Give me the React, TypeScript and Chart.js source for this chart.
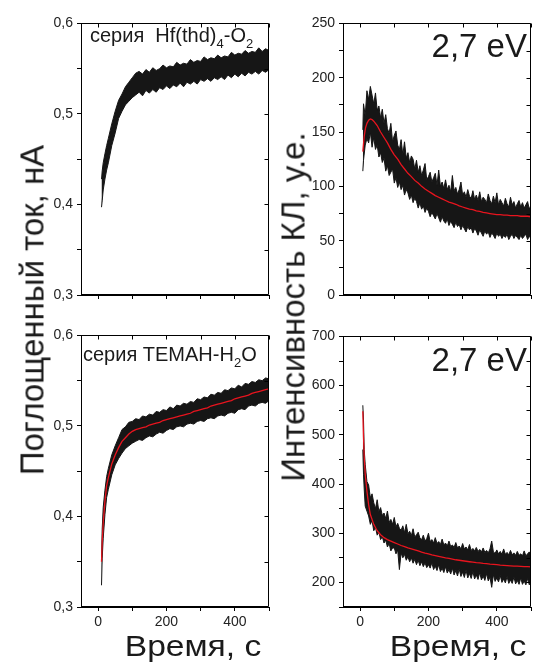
import React, { useEffect, useRef } from "react";
import { Chart, registerables } from "chart.js";
Chart.register(...registerables);

const FONT = '"Liberation Sans", Arial, Helvetica, sans-serif';

// ---------- time grids (s) ----------
const tLeft = [10, 12, 15, 20, 25, 30, 40, 50, 60, 70, 80, 90, 100, 110, 120, 130, 140, 150, 160, 170, 180, 190, 200, 210, 220, 230, 240, 250, 260, 270, 280, 290, 300, 310, 320, 330, 340, 350, 360, 370, 380, 390, 400, 410, 420, 430, 440, 450, 460, 470, 480, 490, 500];

const tTR = [8, 10, 15, 20, 25, 30, 35, 40, 45, 50, 55, 60, 65, 70, 75, 80, 85, 90, 95, 100, 105, 110, 115, 120, 125, 130, 135, 140, 145, 150, 155, 160, 165, 170, 175, 180, 185, 190, 195, 200, 205, 210, 215, 220, 225, 230, 235, 240, 245, 250, 255, 260, 265, 270, 275, 280, 285, 290, 295, 300, 305, 310, 315, 320, 325, 330, 335, 340, 345, 350, 355, 360, 365, 370, 375, 380, 385, 390, 395, 400, 405, 410, 415, 420, 425, 430, 435, 440, 445, 450, 455, 460, 465, 470, 475, 480, 485, 490, 495, 500];

const tBR = [8, 10, 12, 15, 20, 25, 30, 35, 40, 45, 50, 55, 60, 65, 70, 75, 80, 85, 90, 95, 100, 105, 110, 115, 120, 125, 130, 135, 140, 145, 150, 155, 160, 165, 170, 175, 180, 185, 190, 195, 200, 205, 210, 215, 220, 225, 230, 235, 240, 245, 250, 255, 260, 265, 270, 275, 280, 285, 290, 295, 300, 305, 310, 315, 320, 325, 330, 335, 340, 345, 350, 355, 360, 365, 370, 375, 380, 385, 390, 395, 400, 405, 410, 415, 420, 425, 430, 435, 440, 445, 450, 455, 460, 465, 470, 475, 480, 485, 490, 495, 500];

const tFitTR = [8, 12, 16, 20, 25, 30, 35, 40, 50, 60, 70, 80, 90, 100, 110, 120, 130, 140, 150, 160, 170, 180, 190, 200, 210, 220, 230, 240, 250, 260, 270, 280, 290, 300, 310, 320, 330, 340, 350, 360, 370, 380, 390, 400, 410, 420, 430, 440, 450, 460, 470, 480, 490, 500];

const tFitBR = [8, 10, 12, 15, 20, 25, 30, 40, 50, 60, 70, 80, 90, 100, 110, 120, 130, 140, 150, 160, 170, 180, 190, 200, 210, 220, 230, 240, 250, 260, 270, 280, 290, 300, 310, 320, 330, 340, 350, 360, 370, 380, 390, 400, 410, 420, 430, 440, 450, 460, 470, 480, 490, 500];

// ---------- top-left: Hf(thd)4-O2, absorbed current (nA) ----------
const hfUpper = [0.428, 0.437, 0.446, 0.456, 0.465, 0.473, 0.489, 0.503, 0.515, 0.522, 0.530, 0.535, 0.540, 0.545, 0.547, 0.544, 0.549, 0.546, 0.551, 0.548, 0.550, 0.554, 0.551, 0.553, 0.552, 0.557, 0.554, 0.556, 0.555, 0.560, 0.557, 0.559, 0.558, 0.563, 0.560, 0.562, 0.561, 0.565, 0.562, 0.564, 0.563, 0.568, 0.565, 0.567, 0.566, 0.570, 0.567, 0.569, 0.568, 0.573, 0.569, 0.572, 0.570];
const hfLower = [0.397, 0.404, 0.416, 0.428, 0.438, 0.446, 0.465, 0.479, 0.495, 0.503, 0.510, 0.514, 0.518, 0.521, 0.524, 0.520, 0.526, 0.523, 0.527, 0.524, 0.529, 0.527, 0.531, 0.528, 0.532, 0.530, 0.534, 0.530, 0.535, 0.533, 0.536, 0.533, 0.538, 0.536, 0.539, 0.536, 0.540, 0.538, 0.541, 0.538, 0.543, 0.540, 0.544, 0.541, 0.545, 0.542, 0.546, 0.544, 0.547, 0.544, 0.548, 0.546, 0.549];

// ---------- bottom-left: TEMAH-H2O ----------
const temUpper = [0.352, 0.386, 0.410, 0.429, 0.444, 0.453, 0.468, 0.478, 0.487, 0.496, 0.499, 0.504, 0.505, 0.508, 0.507, 0.511, 0.510, 0.513, 0.512, 0.516, 0.515, 0.518, 0.517, 0.521, 0.519, 0.523, 0.522, 0.525, 0.524, 0.527, 0.526, 0.530, 0.529, 0.532, 0.531, 0.535, 0.534, 0.537, 0.536, 0.540, 0.539, 0.542, 0.541, 0.545, 0.543, 0.547, 0.546, 0.549, 0.548, 0.551, 0.550, 0.553, 0.552];
const temLower = [0.324, 0.354, 0.376, 0.402, 0.421, 0.430, 0.446, 0.457, 0.464, 0.470, 0.475, 0.478, 0.481, 0.483, 0.485, 0.484, 0.487, 0.489, 0.488, 0.491, 0.493, 0.492, 0.495, 0.497, 0.496, 0.499, 0.500, 0.499, 0.502, 0.503, 0.502, 0.505, 0.506, 0.505, 0.508, 0.509, 0.508, 0.511, 0.512, 0.511, 0.514, 0.515, 0.514, 0.518, 0.519, 0.518, 0.522, 0.523, 0.522, 0.525, 0.526, 0.525, 0.528];
const temFit = [0.350, 0.372, 0.393, 0.417, 0.434, 0.443, 0.458, 0.468, 0.476, 0.483, 0.487, 0.491, 0.494, 0.496, 0.497, 0.498, 0.499, 0.501, 0.502, 0.503, 0.504, 0.506, 0.507, 0.508, 0.509, 0.510, 0.511, 0.512, 0.513, 0.514, 0.516, 0.517, 0.518, 0.519, 0.520, 0.522, 0.523, 0.524, 0.525, 0.526, 0.527, 0.528, 0.530, 0.531, 0.532, 0.533, 0.534, 0.536, 0.537, 0.538, 0.539, 0.540, 0.541];

// ---------- top-right: CL intensity 2.7 eV (Hf(thd)4-O2) ----------
const clTopUpper = [
  152, 176, 165, 188, 180, 192, 184, 176, 186, 170,
  174, 163, 171, 158, 166, 153, 149, 158, 141, 147,
  151, 138, 134, 143, 129, 141, 126, 131, 122, 128,
  125, 116, 124, 113, 119, 110, 115, 121, 106, 109,
  113, 104, 108, 112, 101, 115, 100, 104, 98, 106,
  97, 101, 95, 110, 96, 99, 93, 97, 104, 92,
  95, 90, 97, 91, 89, 96, 88, 92, 87, 95,
  86, 90, 88, 85, 93, 87, 84, 91, 85, 94,
  83, 88, 85, 82, 89, 84, 81, 90, 83, 86,
  80, 84, 87, 81, 85, 80, 83, 86, 79, 83,
];
const clTopLower = [
  114, 124, 138, 144, 140, 150, 136, 145, 134, 138,
  127, 131, 122, 126, 114, 119, 110, 113, 116, 103,
  108, 99, 104, 97, 101, 92, 97, 94, 88, 92,
  85, 89, 86, 80, 85, 79, 82, 76, 80, 77,
  72, 76, 73, 70, 75, 71, 67, 72, 68, 66,
  70, 64, 68, 65, 62, 67, 63, 65, 60, 64,
  61, 58, 63, 60, 62, 57, 61, 59, 55, 60,
  57, 54, 59, 56, 58, 53, 57, 55, 52, 57,
  54, 56, 52, 55, 53, 56, 51, 54, 56, 52,
  55, 53, 51, 55, 52, 54, 56, 51, 54, 52,
];
const clTopFit = [132, 146, 154, 158, 161, 162, 161.5, 160, 156, 150, 145, 140, 134, 129, 125, 120, 116, 112, 109, 105.5, 103, 100, 97.5, 95.5, 93.5, 91.5, 90, 88.5, 87, 85.5, 84.5, 83.5, 82, 81, 80, 79, 78.5, 77.5, 77, 76, 75.5, 75, 74.5, 74, 74, 73.5, 73.5, 73, 73, 73, 72.5, 72.5, 72.5, 72];

// ---------- bottom-right: CL intensity 2.7 eV (TEMAH-H2O) ----------
const clBotUpper = [
  560, 530, 470, 440, 405, 398, 372, 380, 362, 350,
  368, 344, 352, 336, 341, 330, 345, 322, 328, 318,
  332, 313, 320, 310, 306, 315, 301, 318, 299, 304,
  295, 309, 292, 297, 302, 290, 287, 296, 284, 289,
  300, 283, 287, 280, 291, 279, 283, 277, 288, 276,
  280, 274, 284, 273, 276, 271, 281, 270, 274, 268,
  279, 268, 272, 266, 277, 265, 269, 264, 271, 263,
  267, 262, 270, 261, 265, 260, 268, 284, 262, 259,
  266, 258, 263, 257, 268, 257, 261, 256, 265, 256,
  260, 255, 263, 255, 258, 254, 264, 254, 258, 262,
  255,
];
const clBotLower = [
  470, 420, 390, 355, 345, 335, 318, 326, 305, 312,
  296, 302, 287, 293, 280, 286, 272, 279, 264, 270,
  270, 258, 266, 226, 260, 250, 257, 245, 252, 242,
  250, 239, 247, 236, 245, 234, 242, 232, 240, 230,
  236, 229, 240, 226, 233, 224, 236, 222, 229, 220,
  232, 219, 226, 217, 229, 215, 224, 213, 227, 212,
  221, 210, 225, 209, 218, 208, 222, 207, 215, 206,
  220, 205, 213, 204, 218, 203, 211, 190, 216, 202,
  209, 201, 214, 200, 207, 199, 212, 198, 205, 198,
  211, 197, 204, 196, 209, 196, 203, 195, 208, 195,
  203,
];
const clBotFit = [548, 495, 455, 420, 385, 358, 338, 318, 305, 297, 291, 287, 284, 281, 278, 275, 272.5, 270, 268, 266, 264, 261.5, 259.5, 258, 256, 254.5, 253, 251.5, 250, 249, 247.5, 246, 245, 244, 243, 242, 241, 240, 239.5, 238.5, 238, 237, 236.5, 236, 235, 234.5, 234, 233.5, 233, 233, 232.5, 232, 232, 231.5];

// ---------- axes ----------
const xTicks = [0, 100, 200, 300, 400, 500];
const xLabelValues = [0, 200, 400];
const yTicksCurrent = [0.3, 0.35, 0.4, 0.45, 0.5, 0.55, 0.6];
const yTicksClTop = [0, 25, 50, 75, 100, 125, 150, 175, 200, 225, 250];
const yTicksClBot = [150, 200, 250, 300, 350, 400, 450, 500, 550, 600, 650, 700];

const PADL = 60, PADR = 10, PADT = 10, PADB = 40;

function pts(t: number[], v: number[]) {
  const n = Math.min(t.length, v.length);
  const out: { x: number; y: number }[] = [];
  for (let i = 0; i < n; i++) out.push({ x: t[i], y: v[i] });
  return out;
}

const frameTicks = {
  id: "frameTicks",
  afterDatasetsDraw(chart: any) {
    const { ctx, chartArea } = chart;
    const { left, right, top, bottom } = chartArea;
    ctx.save();
    ctx.strokeStyle = "#000";
    ctx.lineWidth = 1;
    const L = Math.round(left) + 0.5, R = Math.round(right) - 0.5;
    const T = Math.round(top) + 0.5, B = Math.round(bottom) - 0.5;
    ctx.beginPath();
    ctx.moveTo(L, T); ctx.lineTo(R, T); ctx.lineTo(R, B); ctx.lineTo(L, B); ctx.closePath();
    ctx.stroke();
    const xs = chart.scales.x, ys = chart.scales.y;
    ctx.beginPath();
    xs.ticks.forEach((tk: any) => {
      const px = Math.round(xs.getPixelForValue(tk.value)) + 0.5;
      ctx.moveTo(px, T); ctx.lineTo(px, T + 4);
    });
    ys.ticks.forEach((tk: any) => {
      const py = Math.round(ys.getPixelForValue(tk.value)) + 0.5;
      ctx.moveTo(R, py); ctx.lineTo(R - 4, py);
    });
    ctx.stroke();
    ctx.restore();
  },
};

type PanelProps = {
  left: number; top: number; w: number; h: number;
  yMin: number; yMax: number; yTicks: number[];
  yLabel: (v: number) => string;
  showX: boolean;
  band: { t: number[]; upper: number[]; lower: number[] };
  fit?: { t: number[]; v: number[] };
};

function Panel(p: PanelProps) {
  const ref = useRef<HTMLCanvasElement | null>(null);
  const W = p.w + PADL + PADR, H = p.h + PADT + PADB;
  useEffect(() => {
    const cv = ref.current!;
    const datasets: any[] = [];
    if (p.fit) {
      datasets.push({
        data: pts(p.fit.t, p.fit.v), borderColor: "#e8141e", borderWidth: 1.3,
        pointRadius: 0, fill: false, order: 0,
      });
    }
    datasets.push({
      data: pts(p.band.t, p.band.upper), borderColor: "#161616", borderWidth: 1,
      backgroundColor: "#161616", pointRadius: 0, fill: "+1", order: 1,
    });
    datasets.push({
      data: pts(p.band.t, p.band.lower), borderColor: "#161616", borderWidth: 1,
      pointRadius: 0, fill: false, order: 2,
    });
    const chart = new Chart(cv, {
      type: "line",
      data: { datasets },
      plugins: [frameTicks],
      options: {
        responsive: false,
        animation: false,
        devicePixelRatio: 1,
        layout: { padding: { left: 0, right: PADR, top: PADT, bottom: 0 } },
        plugins: { legend: { display: false }, tooltip: { enabled: false } },
        elements: { line: { tension: 0 }, point: { radius: 0 } },
        scales: {
          x: {
            type: "linear", min: -50, max: 500,
            afterBuildTicks: (s: any) => { s.ticks = xTicks.map((v) => ({ value: v })); },
            afterFit: (s: any) => { s.height = PADB; },
            grid: { drawOnChartArea: false, drawTicks: true, tickLength: 4, color: "#000", lineWidth: 1 },
            border: { display: true, color: "#000", width: 1 },
            ticks: {
              autoSkip: false, maxRotation: 0, padding: 3, color: "#222",
              font: { family: FONT, size: 14 },
              callback: (v: any) => (p.showX && xLabelValues.includes(Number(v)) ? String(v) : ""),
            },
          },
          y: {
            type: "linear", min: p.yMin, max: p.yMax,
            afterBuildTicks: (s: any) => { s.ticks = p.yTicks.map((v) => ({ value: v })); },
            afterFit: (s: any) => { s.width = PADL; },
            grid: { drawOnChartArea: false, drawTicks: true, tickLength: 4, color: "#000", lineWidth: 1 },
            border: { display: true, color: "#000", width: 1 },
            ticks: {
              autoSkip: false, padding: 4, color: "#222",
              font: { family: FONT, size: 14 },
              callback: (v: any) => p.yLabel(Number(v)),
            },
          },
        },
      } as any,
    });
    return () => chart.destroy();
  }, []);
  return (
    <canvas
      ref={ref}
      width={W}
      height={H}
      style={{ position: "absolute", left: p.left - PADL, top: p.top - PADT, width: W, height: H }}
    />
  );
}

const labCurrent = (v: number) => {
  const k = v * 10;
  return Math.abs(k - Math.round(k)) < 1e-6 ? v.toFixed(1).replace(".", ",") : "";
};
const labClTop = (v: number) => (v % 50 === 0 ? String(v) : "");
const labClBot = (v: number) => (v % 100 === 0 ? String(v) : "");

const bigText: React.CSSProperties = {
  position: "absolute", fontFamily: FONT, fontSize: 33, lineHeight: "33px",
  whiteSpace: "nowrap", color: "#1a1a1a",
};
const timeText: React.CSSProperties = {
  position: "absolute", fontFamily: FONT, fontSize: 30, lineHeight: "30px",
  whiteSpace: "nowrap", color: "#1a1a1a",
};
const seriesText: React.CSSProperties = {
  position: "absolute", fontFamily: FONT, fontSize: 20, lineHeight: "20px",
  whiteSpace: "nowrap", color: "#1a1a1a",
};
const subStyle: React.CSSProperties = { fontSize: 13, verticalAlign: "-6px", lineHeight: 0 };

export default function App() {
  return (
    <div style={{ position: "absolute", left: 0, top: 0, width: 533, height: 662, background: "#fff", overflow: "hidden" }}>
      <Panel left={81} top={21} w={188} h={274} yMin={0.3} yMax={0.6} yTicks={yTicksCurrent} yLabel={labCurrent}
        showX={false} band={{ t: tLeft, upper: hfUpper, lower: hfLower }} />
      <Panel left={81} top={333} w={188} h={274} yMin={0.3} yMax={0.6} yTicks={yTicksCurrent} yLabel={labCurrent}
        showX={true} band={{ t: tLeft, upper: temUpper, lower: temLower }} fit={{ t: tLeft, v: temFit }} />
      <Panel left={343} top={21} w={188} h={274} yMin={0} yMax={250} yTicks={yTicksClTop} yLabel={labClTop}
        showX={false} band={{ t: tTR, upper: clTopUpper, lower: clTopLower }} fit={{ t: tFitTR, v: clTopFit }} />
      <Panel left={343} top={334} w={188} h={273} yMin={150} yMax={700} yTicks={yTicksClBot} yLabel={labClBot}
        showX={true} band={{ t: tBR, upper: clBotUpper, lower: clBotLower }} fit={{ t: tFitBR, v: clBotFit }} />

      <div style={{ ...seriesText, left: 90, top: 25 }}>
        серия&nbsp;&nbsp;Hf(thd)<sub style={subStyle}>4</sub>-O<sub style={subStyle}>2</sub>
      </div>
      <div style={{ ...seriesText, left: 83, top: 344 }}>
        серия ТЕМАН-H<sub style={subStyle}>2</sub>O
      </div>
      <div style={{ ...bigText, left: 300, width: 227, textAlign: "right", top: 29 }}>2,7 eV</div>
      <div style={{ ...bigText, left: 300, width: 227, textAlign: "right", top: 343 }}>2,7 eV</div>

      <div style={{ ...bigText, left: 32, top: 310, transform: "translate(-50%, -50%) rotate(-90deg)" }}>
        Поглощенный ток, нА
      </div>
      <div style={{ ...bigText, left: 293, top: 307, transform: "translate(-50%, -50%) rotate(-90deg)" }}>
        Интенсивность КЛ, у.е.
      </div>
      <div style={{ ...timeText, left: 193, top: 631, transform: "translateX(-50%) scaleX(1.12)" }}>Время, с</div>
      <div style={{ ...timeText, left: 458, top: 631, transform: "translateX(-50%) scaleX(1.12)" }}>Время, с</div>
    </div>
  );
}
